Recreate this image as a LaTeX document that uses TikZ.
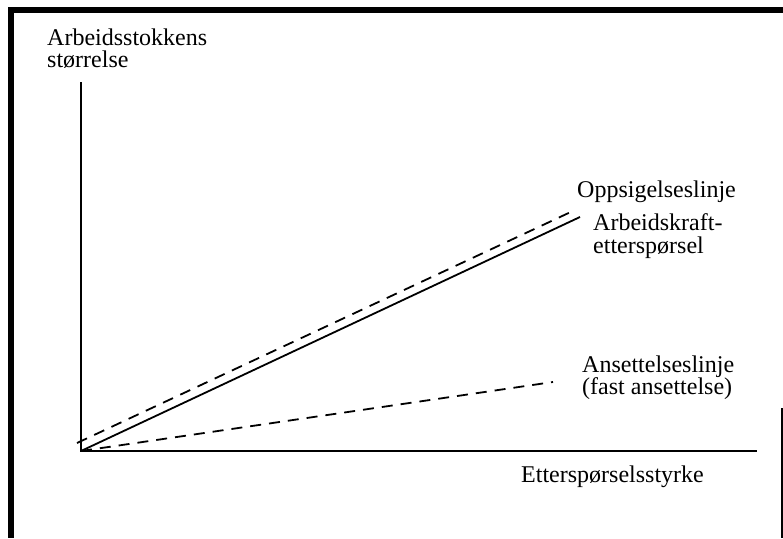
\documentclass[tikz,border=0pt]{standalone}
\usepackage{fontspec}
\setmainfont{Liberation Serif}
\begin{document}
\begin{tikzpicture}[x=1pt,y=-1pt,
  lbl/.style={anchor=base west, inner sep=0pt, font=\fontsize{24}{24}\selectfont},
  axisline/.style={line width=2.6pt, line join=miter},
  curve/.style={line width=1.8pt},
  dashcurve/.style={curve, dash pattern=on 11pt off 8pt},
  frameline/.style={line width=5.5pt}]
\useasboundingbox (0,0) rectangle (783,538);
% frame
\draw[frameline] (8,10) -- (783,10);
\draw[line width=6pt] (11,13) -- (11,538);
\draw[line width=1.5pt] (782,408) -- (782,538);
% axes
\coordinate (O) at (81,451);
\coordinate (Ytop) at (81,82);
\coordinate (Xend) at (757,451);
\draw[axisline] (Ytop) -- (O) -- (Xend);
% lines
\coordinate (Dend) at (580,217);
\coordinate (Qs) at (77,443);
\coordinate (Qe) at (575,210);
\coordinate (Ae) at (553,382);
\draw[curve] (O) -- (Dend);
\draw[dashcurve] (Qs) -- (Qe);
\draw[dashcurve] (O) -- (Ae);
% labels
\node[lbl] (yl1) at (47,45) {Arbeidsstokkens};
\node[lbl] (yl2) at (47,67) {størrelse};
\node[lbl] (opp) at (577,197) {Oppsigelseslinje};
\node[lbl] (ark1) at (593,230) {Arbeidskraft-};
\node[lbl] (ark2) at (593,253) {etterspørsel};
\node[lbl] (ans1) at (582,372) {Ansettelseslinje};
\node[lbl] (ans2) at (582,394) {(fast ansettelse)};
\node[lbl] (xl) at (521,482) {Etterspørselsstyrke};
\end{tikzpicture}
\end{document}
